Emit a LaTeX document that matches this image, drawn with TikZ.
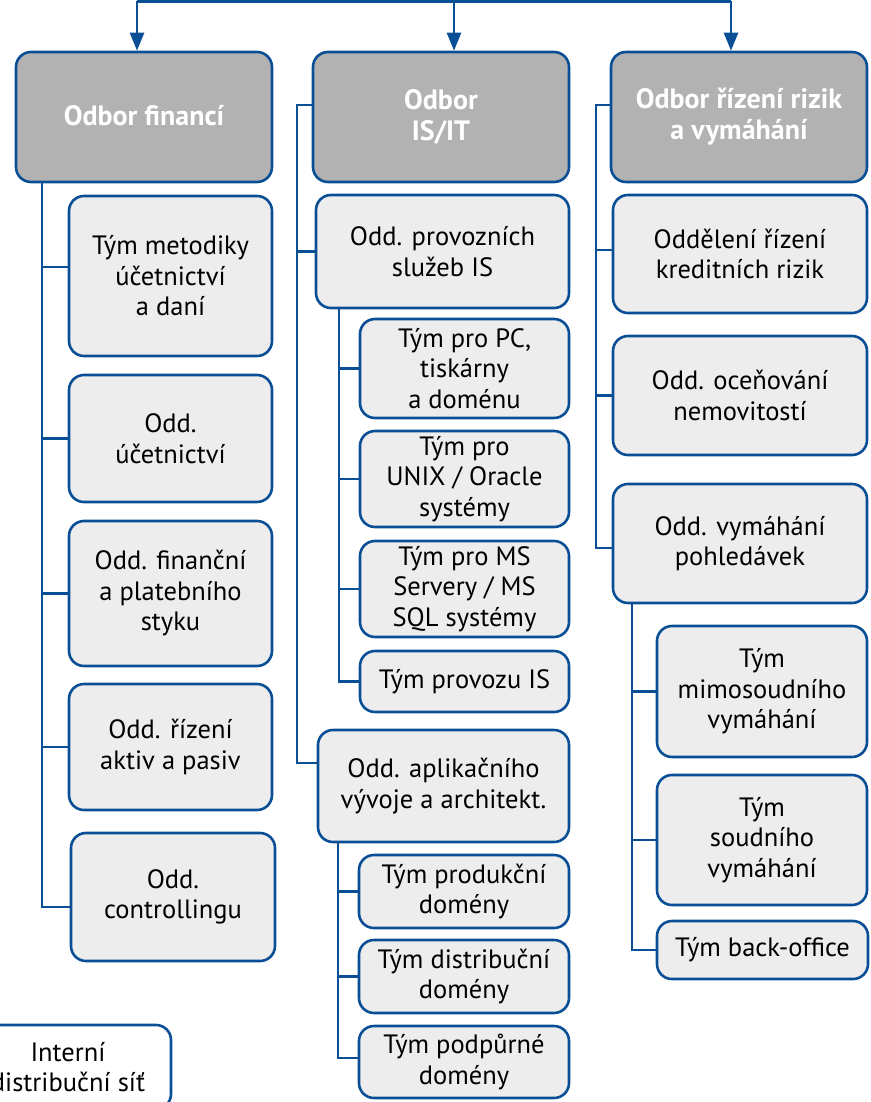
\documentclass[tikz,border=0pt]{standalone}
\usepackage{fontspec}
\setmainfont{PT Sans}
\usetikzlibrary{arrows.meta}
\definecolor{bl}{HTML}{0A4E96}
\definecolor{topgray}{HTML}{B2B2B2}
\definecolor{boxgray}{HTML}{EDEDED}
\begin{document}
\begin{tikzpicture}[x=1pt,y=-1pt,
  base/.style={draw=bl,line width=2.6pt,rounded corners=15pt,inner sep=0pt,align=center,
    font=\fontsize{26.5}{30.5}\selectfont},
  topbox/.style={base,fill=topgray,text=white,font=\bfseries\fontsize{28}{31}\selectfont},
  subbox/.style={base,fill=boxgray,text=black},
  extbox/.style={base,fill=white,text=black},
  conn/.style={draw=bl,line width=2.6pt},
  arr/.style={conn,-{Triangle[width=14pt,length=18pt]}}]
\useasboundingbox (0,0) rectangle (870,1102);
\clip (0,0) rectangle (870,1102);

% top level
\node[topbox,minimum width=256pt,minimum height=130pt] (fin) at (144,117) {\raisebox{3pt}{Odbor financí}};
\node[topbox,minimum width=256pt,minimum height=130pt] (isit) at (441,117) {Odbor\\IS/IT};
\node[topbox,minimum width=256pt,minimum height=130pt] (riz) at (739,117) {Odbor řízení rizik\\a vymáhání};

% left column
\node[subbox,minimum width=203pt,minimum height=160pt] (f1) at (170.5,276) {Tým metodiky\\účetnictví\\a daní};
\node[subbox,minimum width=203pt,minimum height=127pt] (f2) at (170.5,438.5) {Odd.\\účetnictví};
\node[subbox,minimum width=203pt,minimum height=145pt] (f3) at (170.5,593.5) {Odd. finanční\\a platebního\\styku};
\node[subbox,minimum width=203pt,minimum height=126pt] (f4) at (170.5,747) {Odd. řízení\\aktiv a pasiv};
\node[subbox,minimum width=204pt,minimum height=128pt] (f5) at (173,897) {Odd.\\controllingu};

% middle column
\node[subbox,minimum width=253pt,minimum height=113pt] (p1) at (442.5,251.5) {Odd. provozních\\služeb IS};
\node[subbox,minimum width=209pt,minimum height=99pt] (s1) at (464.5,368.5) {Tým pro PC,\\tiskárny\\a doménu};
\node[subbox,minimum width=209pt,minimum height=96pt] (s2) at (464.5,479) {Tým pro\\UNIX / Oracle\\systémy};
\node[subbox,minimum width=209pt,minimum height=96pt] (s3) at (464.5,589) {Tým pro MS\\Servery / MS\\SQL systémy};
\node[subbox,minimum width=209pt,minimum height=61pt] (s4) at (464.5,681.5) {Tým provozu IS};
\node[subbox,minimum width=251pt,minimum height=112pt] (p2) at (443.5,786) {Odd. aplikačního\\vývoje a architekt.};
\node[subbox,minimum width=210pt,minimum height=73pt] (d1) at (464,891.5) {Tým produkční\\domény};
\node[subbox,minimum width=210pt,minimum height=73pt] (d2) at (464,976.5) {Tým distribuční\\domény};
\node[subbox,minimum width=210pt,minimum height=72pt] (d3) at (464,1062) {Tým podpůrné\\domény};

% right column
\node[subbox,minimum width=254pt,minimum height=118pt] (r1) at (740,254) {Oddělení řízení\\kreditních rizik};
\node[subbox,minimum width=254pt,minimum height=119pt] (r2) at (740,395.5) {Odd. oceňování\\nemovitostí};
\node[subbox,minimum width=254pt,minimum height=119pt] (r3) at (740,543.5) {Odd. vymáhání\\pohledávek};
\node[subbox,minimum width=210pt,minimum height=131pt] (t1) at (762,691.5) {Tým\\mimosoudního\\vymáhání};
\node[subbox,minimum width=210pt,minimum height=130pt] (t2) at (762,840) {Tým\\soudního\\vymáhání};
\node[subbox,minimum width=211pt,minimum height=58pt] (t3) at (762.5,950) {Tým back-office};

% external
\node[extbox,minimum width=206pt,minimum height=84pt] (int) at (68,1067) {Interní\\distribuční síť};

% top connectors
\coordinate (tl) at (137,1.3);
\coordinate (tm) at (454,1.3);
\coordinate (tr) at (731,1.3);
\draw[conn] (tl) -- (tr);
\draw[arr] (tl) -- (tl |- fin.north);
\draw[arr] (tm) -- (tm |- isit.north);
\draw[arr] (tr) -- (tr |- riz.north);

% left trunk
\coordinate (lt) at (42,0);
\draw[conn] (fin.south -| lt) |- ([yshift=9pt]f1.west);
\draw[conn] (fin.south -| lt) |- (f2.west);
\draw[conn] (fin.south -| lt) |- (f3.west);
\draw[conn] (fin.south -| lt) |- (f4.west);
\draw[conn] (fin.south -| lt) |- ([yshift=-10pt]f5.west);

% middle trunk
\coordinate (mt) at (297,105);
\draw[conn] (isit.west |- mt) -- (mt) |- (p1.west);
\draw[conn] (mt) |- ([yshift=23pt]p2.west);
\coordinate (pt1) at (339,0);
\draw[conn] (p1.south -| pt1) |- (s1.west);
\draw[conn] (p1.south -| pt1) |- (s2.west);
\draw[conn] (p1.south -| pt1) |- (s3.west);
\draw[conn] (p1.south -| pt1) |- (s4.west);
\coordinate (pt2) at (338,0);
\draw[conn] (p2.south -| pt2) |- (d1.west);
\draw[conn] (p2.south -| pt2) |- (d2.west);
\draw[conn] (p2.south -| pt2) |- ([yshift=4pt]d3.west);

% right trunk
\coordinate (rt) at (596,105);
\draw[conn] (riz.west |- rt) -- (rt) |- ([yshift=4pt]r1.west);
\draw[conn] (rt) |- (r2.west);
\draw[conn] (rt) |- ([yshift=-4.5pt]r3.west);
\coordinate (rt2) at (632,0);
\draw[conn] (r3.south -| rt2) |- (t1.west);
\draw[conn] (r3.south -| rt2) |- (t2.west);
\draw[conn] (r3.south -| rt2) |- (t3.west);
\end{tikzpicture}
\end{document}
